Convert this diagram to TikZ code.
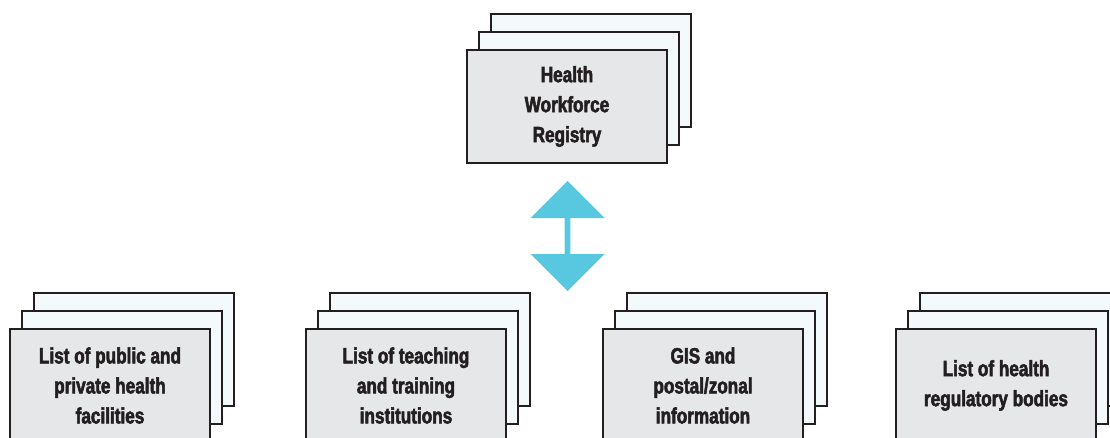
\documentclass[tikz,border=0pt]{standalone}
\usepackage{fontspec}
\setmainfont{Liberation Sans}[FakeStretch=0.78, BoldFeatures={FakeBold=2.4}]
\definecolor{cardfront}{RGB}{230,231,232}
\definecolor{cardback}{RGB}{244,250,251}
\definecolor{cardline}{RGB}{35,31,32}
\definecolor{cardtext}{RGB}{35,31,32}
\definecolor{linkblue}{RGB}{88,200,224}
\tikzset{
  card/.style={rectangle, draw=cardline, line width=2pt, anchor=north west,
    minimum width=200pt, minimum height=113pt, inner sep=0pt, outer sep=0pt},
  backcard/.style={card, fill=cardback},
  frontcard/.style={card, fill=cardfront, text=cardtext, align=center,
    font=\fontsize{22}{30}\selectfont\bfseries},
}
% three stacked cards: #1 name, (#2,#3) top-left of the front card, #4 label
\newcommand\cardstack[4]{%
  \node[backcard] (#1-b2) at (#2+24,#3-36.5) {};
  \node[backcard] (#1-b1) at (#2+12,#3-18) {};
  \node[frontcard] (#1) at (#2,#3) {#4};
}
\begin{document}
\begin{tikzpicture}[x=1pt,y=-1pt]
  \useasboundingbox (0,0) rectangle (1110,437);
  \clip (0,0) rectangle (1110,437);

  \cardstack{registry}{467}{50}{Health\\Workforce\\Registry}
  \cardstack{facilities}{10}{329}{List of public and\\private health\\facilities}
  \cardstack{training}{306}{329}{List of teaching\\and training\\institutions}
  \cardstack{gis}{603}{329}{GIS and\\postal/zonal\\information}
  \cardstack{regulators}{896}{329}{List of health\\regulatory bodies}

  % two-way link between the registry and the source lists
  \coordinate (uptip) at (567.5,181);
  \coordinate (downtip) at (567.5,291);
  \fill[linkblue] (uptip) -- ++(37,37) -- ++(-34.2,0) -- ++(0,36) -- ++(34.2,0)
    -- (downtip) -- ++(-37,-37) -- ++(34.2,0) -- ++(0,-36) -- ++(-34.2,0) -- cycle;
\end{tikzpicture}
\end{document}
